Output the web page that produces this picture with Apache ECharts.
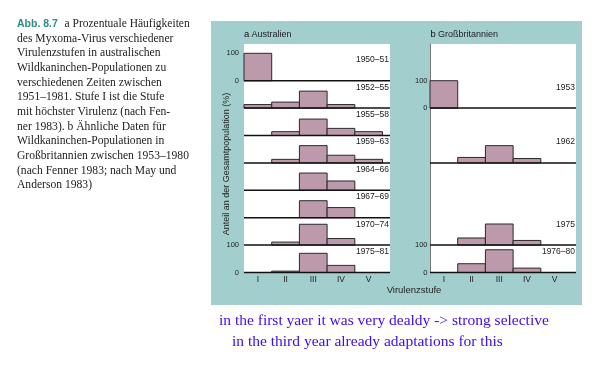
<!DOCTYPE html>
<html><head><meta charset="utf-8">
<script src="https://cdn.jsdelivr.net/npm/echarts@6/dist/echarts.min.js"></script>
<style>html,body{margin:0;padding:0;background:#fff}#c{width:613px;height:371px}</style>
</head><body><div id="c"></div>
<script>
// ---------- data ----------
const levels = ['I', 'II', 'III', 'IV', 'V'];
const ausPeriods = ['1950–51', '1952–55', '1955–58', '1959–63', '1964–66', '1967–69', '1970–74', '1975–81'];
const ausValues = [
  [100, 0, 0, 0, 0],
  [13, 22, 62, 13, 0],
  [0, 14, 60, 26, 14],
  [0, 13, 63, 28, 13],
  [0, 0, 63, 34, 0],
  [0, 0, 62, 37, 0],
  [0, 11, 76, 24, 0],
  [0, 5, 70, 26, 0]
];
const gbPeriods = ['1953', '1962', '1975', '1976–80'];
const gbValues = [
  [100, 0, 0, 0, 0],
  [0, 20, 63, 16, 0],
  [0, 26, 77, 17, 0],
  [0, 32, 83, 16, 0]
];
const yTickText = ['0', '100'];
const captionLines = [
  'des Myxoma-Virus verschiedener',
  'Virulenzstufen in australischen',
  'Wildkaninchen-Populationen zu',
  'verschiedenen Zeiten zwischen',
  '1951–1981. Stufe I ist die Stufe',
  'mit höchster Virulenz (nach Fen-',
  'ner 1983). b Ähnliche Daten für',
  'Wildkaninchen-Populationen in',
  'Großbritannien zwischen 1953–1980',
  '(nach Fenner 1983; nach May und',
  'Anderson 1983)'
];
const notes = [
  'in the first yaer it was very dealdy -> strong selective',
  'in the third year already adaptations for this'
];

// ---------- layout ----------
const NROWS = 8;
const ausSlots = [0, 1, 2, 3, 4, 5, 6, 7];
const gbSlots = [1, 3, 6, 7];
const XMAX = 5.27, YMAX = 834;
const SANS = '"Liberation Sans", Arial, sans-serif';
const SERIF = '"Liberation Serif", "Times New Roman", serif';
const BAR_FILL = '#bc99ab';

const off = s => (NROWS - 1 - s) * 100;

function barData(values, slots) {
  const out = [];
  values.forEach((row, r) => row.forEach((v, i) => { if (v > 0) out.push([i, off(slots[r]), v]); }));
  return out;
}
function barSeries(idx, values, slots) {
  return {
    type: 'custom', xAxisIndex: idx, yAxisIndex: idx, z: 3,
    data: barData(values, slots),
    renderItem: (p, api) => {
      const i = api.value(0), o = api.value(1), v = api.value(2);
      const a = api.coord([i, o + v]), b = api.coord([i + 1, o]);
      return { type: 'rect', shape: { x: a[0], y: a[1], width: b[0] - a[0], height: b[1] - a[1] },
        style: { fill: BAR_FILL, stroke: '#2a2a2a', lineWidth: 1 } };
    }
  };
}
function baseSeries(idx, slots) {
  return {
    type: 'custom', xAxisIndex: idx, yAxisIndex: idx, z: 4,
    data: slots.map(s => [0, off(s)]),
    renderItem: (p, api) => {
      const a = api.coord([0, api.value(1)]), b = api.coord([XMAX, api.value(1)]);
      return { type: 'line', shape: { x1: a[0], y1: a[1], x2: b[0], y2: b[1] },
        style: { stroke: '#111', lineWidth: 1.5 } };
    }
  };
}
function labelSeries(idx, periods, slots) {
  return {
    type: 'custom', xAxisIndex: idx, yAxisIndex: idx, z: 5,
    data: slots.map(s => [XMAX, off(s) + 100]),
    renderItem: (p, api) => {
      const a = api.coord([api.value(0), api.value(1)]);
      return { type: 'text', x: a[0] - 1, y: a[1] + 2,
        style: { text: periods[p.dataIndex], align: 'right', verticalAlign: 'top',
          font: '8.5px ' + SANS, fill: '#222' } };
    }
  };
}
function yLabelMap(slots) {
  const m = {};
  [slots[0], slots[slots.length - 1]].forEach(s => { m[off(s)] = yTickText[0]; m[off(s) + 100] = yTickText[1]; });
  return m;
}
function xAxisOpt(idx) {
  return {
    type: 'value', gridIndex: idx, min: 0, max: XMAX, interval: 0.5,
    axisLine: { show: false }, axisTick: { show: false }, splitLine: { show: false },
    axisLabel: {
      margin: 3, fontSize: 8.5, fontFamily: SANS, color: '#222', showMaxLabel: false,
      formatter: v => { const k = v - 0.5; const r = Math.round(k); return (Math.abs(k - r) < 1e-6 && r >= 0 && r < levels.length) ? levels[r] : ''; }
    }
  };
}
function yAxisOpt(idx, slots, showLine, margin) {
  const m = yLabelMap(slots);
  return {
    type: 'value', gridIndex: idx, min: 0, max: YMAX, interval: 100,
    axisLine: { show: showLine, lineStyle: { color: '#777', width: 1 } },
    axisTick: { show: false }, splitLine: { show: false },
    axisLabel: { margin: margin, fontSize: 7.5, fontFamily: SANS, color: '#222',
      formatter: v => (m[v] !== undefined ? m[v] : '') }
  };
}

const graphics = [
  { type: 'rect', z: -10, shape: { x: 211, y: 21, width: 371, height: 284 }, style: { fill: '#a2cfcd' } },
  { type: 'text', x: 244, y: 34.5, style: { text: 'a', font: '9.5px ' + SANS, fill: '#111', verticalAlign: 'middle' } },
  { type: 'text', x: 251.5, y: 34.5, style: { text: 'Australien', font: '9px ' + SANS, fill: '#222', verticalAlign: 'middle' } },
  { type: 'text', x: 430.5, y: 34.5, style: { text: 'b', font: '9.5px ' + SANS, fill: '#111', verticalAlign: 'middle' } },
  { type: 'text', x: 438, y: 34.5, style: { text: 'Großbritannien', font: '9px ' + SANS, fill: '#222', verticalAlign: 'middle' } },
  { type: 'text', x: 414, y: 290, style: { text: 'Virulenzstufe', font: '9.5px ' + SANS, fill: '#222', align: 'center', verticalAlign: 'middle' } },
  { type: 'text', x: 227, y: 164, rotation: Math.PI / 2,
    style: { text: 'Anteil an der Gesamtpopulation (%)', font: '9px ' + SANS, fill: '#222', align: 'center', verticalAlign: 'middle' } },
  { type: 'text', x: 17, y: 24, style: {
      text: '{b|Abb. 8.7}  {t|a Prozentuale Häufigkeiten}', verticalAlign: 'middle',
      rich: { b: { font: 'bold 10.5px ' + SANS, fill: '#2c8c8c' }, t: { font: '11.5px ' + SERIF, fill: '#222' } } } }
];
captionLines.forEach((t, i) => graphics.push({ type: 'text', x: 17, y: 38.7 + i * 14.67,
  style: { text: t, font: '11.6px ' + SERIF, fill: '#222', verticalAlign: 'middle' } }));
graphics.push({ type: 'text', x: 219, y: 321, style: { text: notes[0], font: '15.5px ' + SERIF, fill: '#4010f5', verticalAlign: 'middle' } });
graphics.push({ type: 'text', x: 232, y: 342, style: { text: notes[1], font: '15.5px ' + SERIF, fill: '#4010f5', verticalAlign: 'middle' } });

const chart = echarts.init(document.getElementById('c'), null, { renderer: 'canvas' });
chart.setOption({
  animation: false,
  backgroundColor: '#fff',
  grid: [
    { left: 244, top: 44, width: 146, height: 228.5, show: true, backgroundColor: '#fff', borderWidth: 0 },
    { left: 430, top: 44, width: 146, height: 228.5, show: true, backgroundColor: '#fff', borderWidth: 0 }
  ],
  xAxis: [xAxisOpt(0), xAxisOpt(1)],
  yAxis: [yAxisOpt(0, ausSlots, false, 5), yAxisOpt(1, gbSlots, true, 2.5)],
  series: [
    barSeries(0, ausValues, ausSlots), baseSeries(0, ausSlots), labelSeries(0, ausPeriods, ausSlots),
    barSeries(1, gbValues, gbSlots), baseSeries(1, gbSlots), labelSeries(1, gbPeriods, gbSlots)
  ],
  graphic: { elements: graphics }
});
</script></body></html>
